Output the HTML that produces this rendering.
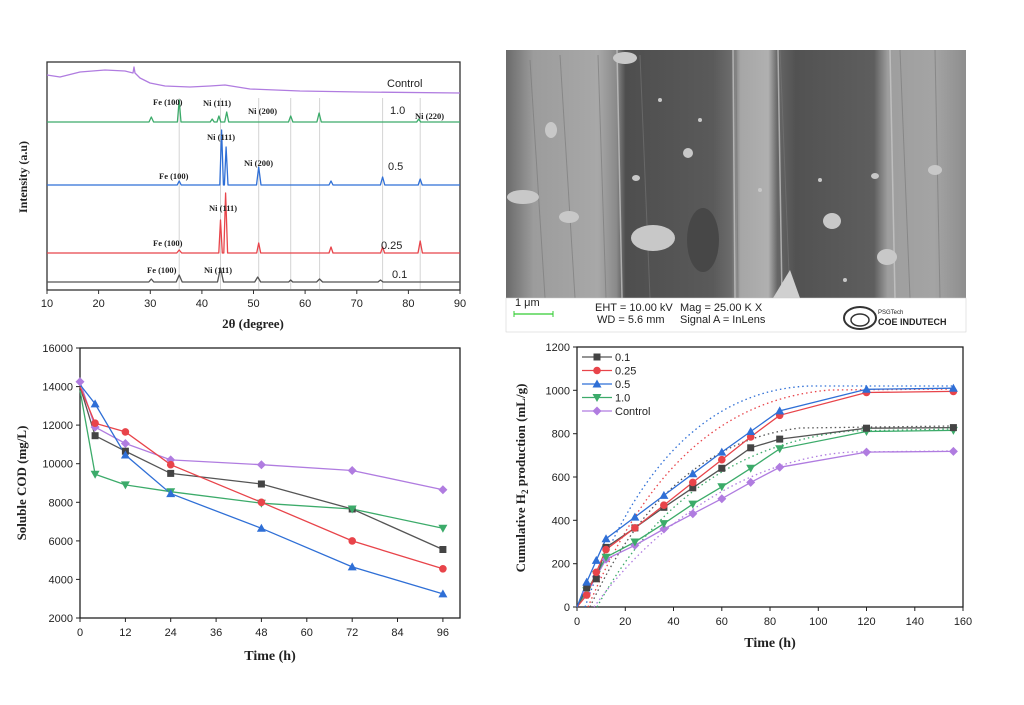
<!DOCTYPE html>
<html><head><meta charset="utf-8"><style>
html,body{margin:0;padding:0;background:#fff;}
svg{display:block;}
.t{font-family:"Liberation Sans",sans-serif;font-size:11px;fill:#222;}
.tb{font-family:"Liberation Serif",serif;font-weight:bold;fill:#222;}
</style></head><body>
<svg width="1024" height="705" viewBox="0 0 1024 705" xmlns="http://www.w3.org/2000/svg">
<defs>
<symbol id="sq" viewBox="-4 -4 8 8" overflow="visible"><rect x="-3.5" y="-3.5" width="7" height="7"/></symbol>
<symbol id="ci" viewBox="-4 -4 8 8" overflow="visible"><circle r="3.8"/></symbol>
<symbol id="tu" viewBox="-4 -4 8 8" overflow="visible"><path d="M0,-4.5 L4.5,3.5 L-4.5,3.5Z"/></symbol>
<symbol id="td" viewBox="-4 -4 8 8" overflow="visible"><path d="M0,4.5 L4.5,-3.5 L-4.5,-3.5Z"/></symbol>
<symbol id="di" viewBox="-4 -4 8 8" overflow="visible"><path d="M0,-4.5 L4.5,0 L0,4.5 L-4.5,0Z"/></symbol>
<linearGradient id="sem" x1="0" x2="1" y1="0" y2="0">
<stop offset="0" stop-color="#6a6a6a"/><stop offset="0.06" stop-color="#9c9c9c"/><stop offset="0.2" stop-color="#a8a8a8"/><stop offset="0.24" stop-color="#8a8a8a"/>
<stop offset="0.26" stop-color="#4e4e4e"/><stop offset="0.45" stop-color="#5a5a5a"/><stop offset="0.49" stop-color="#6c6c6c"/>
<stop offset="0.51" stop-color="#a6a6a6"/><stop offset="0.57" stop-color="#b0b0b0"/><stop offset="0.59" stop-color="#666"/>
<stop offset="0.63" stop-color="#525252"/><stop offset="0.8" stop-color="#5e5e5e"/><stop offset="0.83" stop-color="#9e9e9e"/>
<stop offset="0.93" stop-color="#a4a4a4"/><stop offset="1" stop-color="#8e8e8e"/>
</linearGradient>
</defs>
<rect width="1024" height="705" fill="#fff"/>

<!-- XRD panel -->
<g stroke="#d4d4d4" stroke-width="1">
<line x1="179.2" y1="98" x2="179.2" y2="289"/><line x1="220.5" y1="98" x2="220.5" y2="289"/>
<line x1="258.7" y1="98" x2="258.7" y2="289"/><line x1="290.7" y1="98" x2="290.7" y2="289"/>
<line x1="319.6" y1="98" x2="319.6" y2="289"/><line x1="382.6" y1="98" x2="382.6" y2="289"/>
<line x1="420.2" y1="98" x2="420.2" y2="289"/>
</g>
<rect x="47" y="62" width="413" height="228" fill="none" stroke="#333" stroke-width="1.3"/>
<g fill="none" stroke-width="1.3" stroke-linejoin="round">
<path stroke="#b07ce0" d="M47,75 L60,77 L80,72 L105,70 L125,71 L133,73 L134,67 L135,73 L140,78 L150,83 L165,86 L190,87 L210,86 L225,85 L250,89 L300,91 L360,92 L460,93"/>
<path stroke="#3cab6a" d="M47,122 L149,122 L151.3,117 L153.6,122 L177.4,122 L179.2,100 L181,122 L210.2,122 L212.2,119 L214.2,122 L217,122 L218.9,116 L220.8,122 L224.7,122 L226.7,112 L228.7,122 L288.5,122 L290.7,116 L292.9,122 L316.9,122 L319.1,113 L321.3,122 L416.7,122 L418.7,119 L420.7,122 L460,122"/>
<path stroke="#2f6fd6" d="M47,185 L177.2,185 L179.2,181 L181.2,185 L219.8,185 L221.6,130 L223.4,185 L224.4,185 L226.1,147 L228,185 L256.5,185 L258.7,167 L261,185 L329,185 L331,181 L333,185 L380.4,185 L382.6,177 L384.8,185 L418.2,185 L420.2,179 L422.2,185 L460,185"/>
<path stroke="#e8444a" d="M47,253 L176.7,253 L179.2,250 L181.7,253 L218.8,253 L220.5,220 L222.3,253 L223.8,253 L225.6,193 L227.6,253 L256.7,253 L258.7,243 L260.7,253 L329,253 L331,247 L333,253 L380.6,253 L382.6,247 L384.6,253 L418,253 L420.2,241 L422.4,253 L460,253"/>
<path stroke="#555" d="M47,282 L148.8,282 L151.3,279 L153.8,282 L176.2,282 L179.2,275 L182.2,282 L217.5,282 L220.5,268 L223.5,282 L254.7,282 L257.7,277 L260.7,282 L288.7,282 L290.7,280 L292.7,282 L316.6,282 L319.6,279 L322.6,282 L378,282 L380.5,280 L383,282 L460,282"/>
</g>
<g class="tb" font-size="8.5">
<text x="153" y="105">Fe (100)</text><text x="203" y="106">Ni (111)</text><text x="248" y="114">Ni (200)</text><text x="415" y="119">Ni (220)</text>
<text x="207" y="140">Ni (111)</text><text x="159" y="179">Fe (100)</text><text x="244" y="166">Ni (200)</text>
<text x="209" y="211">Ni (111)</text><text x="153" y="246">Fe (100)</text>
<text x="147" y="273">Fe (100)</text><text x="204" y="273">Ni (111)</text>
</g>
<g class="t" font-size="13">
<text x="387" y="87">Control</text><text x="390" y="114">1.0</text><text x="388" y="170">0.5</text><text x="381" y="249">0.25</text><text x="392" y="278">0.1</text>
</g>
<g stroke="#333" stroke-width="1">
<line x1="47" y1="290" x2="47" y2="294"/><line x1="98.6" y1="290" x2="98.6" y2="294"/><line x1="150.3" y1="290" x2="150.3" y2="294"/><line x1="201.9" y1="290" x2="201.9" y2="294"/><line x1="253.5" y1="290" x2="253.5" y2="294"/><line x1="305.1" y1="290" x2="305.1" y2="294"/><line x1="356.8" y1="290" x2="356.8" y2="294"/><line x1="408.4" y1="290" x2="408.4" y2="294"/><line x1="460" y1="290" x2="460" y2="294"/>
</g>
<g class="t" text-anchor="middle">
<text x="47" y="307">10</text><text x="98.6" y="307">20</text><text x="150.3" y="307">30</text><text x="201.9" y="307">40</text><text x="253.5" y="307">50</text><text x="305.1" y="307">60</text><text x="356.8" y="307">70</text><text x="408.4" y="307">80</text><text x="460" y="307">90</text>
</g>
<text class="tb" x="253" y="328" font-size="13" text-anchor="middle">2θ (degree)</text>
<text class="tb" font-size="12" text-anchor="middle" transform="translate(27,177) rotate(-90)">Intensity (a.u)</text>

<!-- SEM panel -->
<rect x="506" y="50" width="460" height="248" fill="url(#sem)"/>
<g stroke="#777" stroke-width="1" opacity="0.6" fill="none">
<path d="M530,60 L545,298"/><path d="M560,55 L575,298"/><path d="M598,55 L606,298"/><path d="M640,55 L650,298"/>
<path d="M736,50 L738,298"/><path d="M780,50 L790,298"/><path d="M900,50 L910,298"/><path d="M935,50 L940,298"/>
</g>
<g stroke="#ccc" stroke-width="1.5" opacity="0.7" fill="none">
<path d="M617,50 L622,298"/><path d="M733,50 L735,298"/><path d="M778,50 L782,298"/><path d="M890,50 L895,298"/>
</g>
<g fill="#c8c8c8">
<ellipse cx="653" cy="238" rx="22" ry="13"/><ellipse cx="832" cy="221" rx="9" ry="8"/><ellipse cx="887" cy="257" rx="10" ry="8"/>
<ellipse cx="523" cy="197" rx="16" ry="7"/><ellipse cx="569" cy="217" rx="10" ry="6"/><ellipse cx="688" cy="153" rx="5" ry="5"/>
<ellipse cx="636" cy="178" rx="4" ry="3"/><ellipse cx="875" cy="176" rx="4" ry="3"/><ellipse cx="625" cy="58" rx="12" ry="6"/>
<ellipse cx="551" cy="130" rx="6" ry="8"/><ellipse cx="935" cy="170" rx="7" ry="5"/>
<circle cx="660" cy="100" r="2"/><circle cx="700" cy="120" r="2"/><circle cx="760" cy="190" r="2"/><circle cx="820" cy="180" r="2"/><circle cx="845" cy="280" r="2"/><circle cx="700" cy="230" r="2"/>
</g>
<ellipse cx="703" cy="240" rx="16" ry="32" fill="#474747"/>
<path d="M773,298 L790,270 L800,298Z" fill="#d0d0d0"/>
<rect x="506" y="298" width="460" height="34" fill="#fff" stroke="#ccc" stroke-width="0.5"/>
<g class="t" font-size="7" fill="#333">
<text x="515" y="306">1 μm</text>
<text x="595" y="311">EHT = 10.00 kV</text><text x="680" y="311">Mag =  25.00 K X</text>
<text x="597" y="323">WD =  5.6 mm</text><text x="680" y="323">Signal A = InLens</text>
<text x="878" y="314" font-size="6">PSGTech</text>
<text x="878" y="325" font-size="9" font-weight="bold">COE INDUTECH</text>
</g>
<line x1="514" y1="314" x2="553" y2="314" stroke="#3c3" stroke-width="1.2"/>
<line x1="514" y1="311" x2="514" y2="317" stroke="#3c3"/><line x1="553" y1="311" x2="553" y2="317" stroke="#3c3"/>
<ellipse cx="860" cy="318" rx="16" ry="11" fill="none" stroke="#333" stroke-width="2"/>
<ellipse cx="860" cy="320" rx="9" ry="6" fill="none" stroke="#333" stroke-width="1.5"/>

<!-- COD panel -->
<rect x="80" y="348" width="380" height="270" fill="none" stroke="#222" stroke-width="1.3"/>
<g stroke="#222" stroke-width="1">
<line x1="76" y1="348" x2="80" y2="348"/><line x1="76" y1="386.6" x2="80" y2="386.6"/><line x1="76" y1="425.1" x2="80" y2="425.1"/><line x1="76" y1="463.7" x2="80" y2="463.7"/><line x1="76" y1="502.3" x2="80" y2="502.3"/><line x1="76" y1="540.9" x2="80" y2="540.9"/><line x1="76" y1="579.4" x2="80" y2="579.4"/><line x1="76" y1="618" x2="80" y2="618"/>
<line x1="80" y1="618" x2="80" y2="622"/><line x1="125.4" y1="618" x2="125.4" y2="622"/><line x1="170.7" y1="618" x2="170.7" y2="622"/><line x1="216.1" y1="618" x2="216.1" y2="622"/><line x1="261.4" y1="618" x2="261.4" y2="622"/><line x1="306.8" y1="618" x2="306.8" y2="622"/><line x1="352.2" y1="618" x2="352.2" y2="622"/><line x1="397.5" y1="618" x2="397.5" y2="622"/><line x1="442.9" y1="618" x2="442.9" y2="622"/>
</g>
<g class="t" text-anchor="end">
<text x="73" y="352">16000</text><text x="73" y="390.6">14000</text><text x="73" y="429.1">12000</text><text x="73" y="467.7">10000</text><text x="73" y="506.3">8000</text><text x="73" y="544.9">6000</text><text x="73" y="583.4">4000</text><text x="73" y="622">2000</text>
</g>
<g class="t" text-anchor="middle">
<text x="80" y="636">0</text><text x="125.4" y="636">12</text><text x="170.7" y="636">24</text><text x="216.1" y="636">36</text><text x="261.4" y="636">48</text><text x="306.8" y="636">60</text><text x="352.2" y="636">72</text><text x="397.5" y="636">84</text><text x="442.9" y="636">96</text>
</g>
<text class="tb" x="270" y="660" font-size="14" text-anchor="middle">Time (h)</text>
<text class="tb" font-size="13" text-anchor="middle" transform="translate(26,483) rotate(-90)">Soluble COD (mg/L)</text>
<g fill="none" stroke-width="1.3">
<polyline stroke="#b07ce0" points="80,381.7 95.1,427.1 125.4,443.5 170.7,459.9 261.4,464.7 352.2,470.5 442.9,489.7"/>
<polyline stroke="#555" points="80,386.6 95.1,435.7 125.4,451.2 170.7,473.4 261.4,484 352.2,509 442.9,549.5"/>
<polyline stroke="#3cab6a" points="80,390.4 95.1,474.3 125.4,484.9 170.7,491.7 261.4,503.2 352.2,509 442.9,528.3"/>
<polyline stroke="#e8444a" points="80,386.6 95.1,423.2 125.4,431.9 170.7,464.7 261.4,502.3 352.2,540.9 442.9,568.8"/>
<polyline stroke="#2f6fd6" points="80,384.6 95.1,403.9 125.4,455 170.7,493.6 261.4,528.3 352.2,566.9 442.9,593.9"/>
</g>
<g fill="#b07ce0"><use href="#di" x="76" y="377.7" width="8" height="8"/><use href="#di" x="91.1" y="423.1" width="8" height="8"/><use href="#di" x="121.4" y="439.5" width="8" height="8"/><use href="#di" x="166.7" y="455.9" width="8" height="8"/><use href="#di" x="257.4" y="460.7" width="8" height="8"/><use href="#di" x="348.2" y="466.5" width="8" height="8"/><use href="#di" x="438.9" y="485.7" width="8" height="8"/></g>
<g fill="#444"><use href="#sq" x="91.1" y="431.7" width="8" height="8"/><use href="#sq" x="121.4" y="447.2" width="8" height="8"/><use href="#sq" x="166.7" y="469.4" width="8" height="8"/><use href="#sq" x="257.4" y="480" width="8" height="8"/><use href="#sq" x="348.2" y="505" width="8" height="8"/><use href="#sq" x="438.9" y="545.5" width="8" height="8"/></g>
<g fill="#3cab6a"><use href="#td" x="91.1" y="470.3" width="8" height="8"/><use href="#td" x="121.4" y="480.9" width="8" height="8"/><use href="#td" x="166.7" y="487.7" width="8" height="8"/><use href="#td" x="257.4" y="499.2" width="8" height="8"/><use href="#td" x="348.2" y="505" width="8" height="8"/><use href="#td" x="438.9" y="524.3" width="8" height="8"/></g>
<g fill="#e8444a"><use href="#ci" x="91.1" y="419.2" width="8" height="8"/><use href="#ci" x="121.4" y="427.9" width="8" height="8"/><use href="#ci" x="166.7" y="460.7" width="8" height="8"/><use href="#ci" x="257.4" y="498.3" width="8" height="8"/><use href="#ci" x="348.2" y="536.9" width="8" height="8"/><use href="#ci" x="438.9" y="564.8" width="8" height="8"/></g>
<g fill="#2f6fd6"><use href="#tu" x="91.1" y="399.9" width="8" height="8"/><use href="#tu" x="121.4" y="451" width="8" height="8"/><use href="#tu" x="166.7" y="489.6" width="8" height="8"/><use href="#tu" x="257.4" y="524.3" width="8" height="8"/><use href="#tu" x="348.2" y="562.9" width="8" height="8"/><use href="#tu" x="438.9" y="589.9" width="8" height="8"/></g>

<!-- H2 panel -->
<rect x="577" y="347" width="386" height="260" fill="none" stroke="#222" stroke-width="1.3"/>
<g stroke="#222" stroke-width="1">
<line x1="573" y1="347" x2="577" y2="347"/><line x1="573" y1="390.3" x2="577" y2="390.3"/><line x1="573" y1="433.7" x2="577" y2="433.7"/><line x1="573" y1="477" x2="577" y2="477"/><line x1="573" y1="520.3" x2="577" y2="520.3"/><line x1="573" y1="563.7" x2="577" y2="563.7"/><line x1="573" y1="607" x2="577" y2="607"/>
<line x1="577" y1="607" x2="577" y2="611"/><line x1="625.3" y1="607" x2="625.3" y2="611"/><line x1="673.5" y1="607" x2="673.5" y2="611"/><line x1="721.8" y1="607" x2="721.8" y2="611"/><line x1="770" y1="607" x2="770" y2="611"/><line x1="818.3" y1="607" x2="818.3" y2="611"/><line x1="866.5" y1="607" x2="866.5" y2="611"/><line x1="914.8" y1="607" x2="914.8" y2="611"/><line x1="963" y1="607" x2="963" y2="611"/>
</g>
<g class="t" text-anchor="end">
<text x="570" y="351">1200</text><text x="570" y="394.3">1000</text><text x="570" y="437.7">800</text><text x="570" y="481">600</text><text x="570" y="524.3">400</text><text x="570" y="567.7">200</text><text x="570" y="611">0</text>
</g>
<g class="t" text-anchor="middle">
<text x="577" y="625">0</text><text x="625.3" y="625">20</text><text x="673.5" y="625">40</text><text x="721.8" y="625">60</text><text x="770" y="625">80</text><text x="818.3" y="625">100</text><text x="866.5" y="625">120</text><text x="914.8" y="625">140</text><text x="963" y="625">160</text>
</g>
<text class="tb" x="770" y="647" font-size="14" text-anchor="middle">Time (h)</text>
<text class="tb" font-size="13" text-anchor="middle" transform="translate(525,478) rotate(-90)">Cumulative H<tspan font-size="9" dy="3">2</tspan><tspan dy="-3"> production (mL/g)</tspan></text>
<g fill="none" stroke-width="1.3" stroke-dasharray="1.5,3">
<path stroke="#2f6fd6" d="M585,607 C630,480 700,390 810,386 L953,386"/>
<path stroke="#e8444a" d="M588,607 C640,485 710,400 830,390 L953,389"/>
<path stroke="#555" d="M590,607 C635,510 700,440 800,428 L953,426"/>
<path stroke="#3cab6a" d="M597,607 C645,520 720,445 850,431 L953,429"/>
<path stroke="#b07ce0" d="M594,607 C650,530 740,460 850,452 L953,451"/>
</g>
<g fill="none" stroke-width="1.3">
<polyline stroke="#b07ce0" points="577,607 586.7,592.9 596.3,576.7 606,559.3 634.9,545.3 663.9,529 692.8,513.8 721.8,498.7 750.7,482.4 779.7,467.3 866.5,452.1 953.4,451.4"/>
<polyline stroke="#3cab6a" points="577,607 586.7,590.8 596.3,574.5 606,557.2 634.9,542 663.9,523.6 692.8,504.1 721.8,486.8 750.7,468.3 779.7,448.8 866.5,431.5 953.4,430.4"/>
<polyline stroke="#555" points="577,607 586.7,587.5 596.3,578.8 606,547.4 634.9,527.9 663.9,507.3 692.8,487.8 721.8,468.3 750.7,447.8 779.7,439.1 866.5,428.2 953.4,427.6"/>
<polyline stroke="#e8444a" points="577,607 586.7,595.1 596.3,572.3 606,549.6 634.9,527.9 663.9,505.2 692.8,482.4 721.8,459.7 750.7,436.9 779.7,415.3 866.5,392.5 953.4,391.4"/>
<polyline stroke="#2f6fd6" points="577,607 586.7,582.1 596.3,560.4 606,538.7 634.9,517.1 663.9,495.4 692.8,473.8 721.8,452.1 750.7,431.5 779.7,410.9 866.5,389.3 953.4,388.2"/>
</g>
<g fill="#b07ce0"><use href="#di" x="582.7" y="588.9" width="8" height="8"/><use href="#di" x="592.3" y="572.7" width="8" height="8"/><use href="#di" x="602" y="555.3" width="8" height="8"/><use href="#di" x="630.9" y="541.3" width="8" height="8"/><use href="#di" x="659.9" y="525" width="8" height="8"/><use href="#di" x="688.8" y="509.8" width="8" height="8"/><use href="#di" x="717.8" y="494.7" width="8" height="8"/><use href="#di" x="746.7" y="478.4" width="8" height="8"/><use href="#di" x="775.7" y="463.3" width="8" height="8"/><use href="#di" x="862.5" y="448.1" width="8" height="8"/><use href="#di" x="949.4" y="447.4" width="8" height="8"/></g>
<g fill="#3cab6a"><use href="#td" x="582.7" y="586.8" width="8" height="8"/><use href="#td" x="592.3" y="570.5" width="8" height="8"/><use href="#td" x="602" y="553.2" width="8" height="8"/><use href="#td" x="630.9" y="538" width="8" height="8"/><use href="#td" x="659.9" y="519.6" width="8" height="8"/><use href="#td" x="688.8" y="500.1" width="8" height="8"/><use href="#td" x="717.8" y="482.8" width="8" height="8"/><use href="#td" x="746.7" y="464.3" width="8" height="8"/><use href="#td" x="775.7" y="444.8" width="8" height="8"/><use href="#td" x="862.5" y="427.5" width="8" height="8"/><use href="#td" x="949.4" y="426.4" width="8" height="8"/></g>
<g fill="#444"><use href="#sq" x="582.7" y="583.5" width="8" height="8"/><use href="#sq" x="592.3" y="574.8" width="8" height="8"/><use href="#sq" x="602" y="543.4" width="8" height="8"/><use href="#sq" x="630.9" y="523.9" width="8" height="8"/><use href="#sq" x="659.9" y="503.3" width="8" height="8"/><use href="#sq" x="688.8" y="483.8" width="8" height="8"/><use href="#sq" x="717.8" y="464.3" width="8" height="8"/><use href="#sq" x="746.7" y="443.8" width="8" height="8"/><use href="#sq" x="775.7" y="435.1" width="8" height="8"/><use href="#sq" x="862.5" y="424.2" width="8" height="8"/><use href="#sq" x="949.4" y="423.6" width="8" height="8"/></g>
<g fill="#e8444a"><use href="#ci" x="582.7" y="591.1" width="8" height="8"/><use href="#ci" x="592.3" y="568.3" width="8" height="8"/><use href="#ci" x="602" y="545.6" width="8" height="8"/><use href="#ci" x="630.9" y="523.9" width="8" height="8"/><use href="#ci" x="659.9" y="501.2" width="8" height="8"/><use href="#ci" x="688.8" y="478.4" width="8" height="8"/><use href="#ci" x="717.8" y="455.7" width="8" height="8"/><use href="#ci" x="746.7" y="432.9" width="8" height="8"/><use href="#ci" x="775.7" y="411.3" width="8" height="8"/><use href="#ci" x="862.5" y="388.5" width="8" height="8"/><use href="#ci" x="949.4" y="387.4" width="8" height="8"/></g>
<g fill="#2f6fd6"><use href="#tu" x="582.7" y="578.1" width="8" height="8"/><use href="#tu" x="592.3" y="556.4" width="8" height="8"/><use href="#tu" x="602" y="534.7" width="8" height="8"/><use href="#tu" x="630.9" y="513.1" width="8" height="8"/><use href="#tu" x="659.9" y="491.4" width="8" height="8"/><use href="#tu" x="688.8" y="469.8" width="8" height="8"/><use href="#tu" x="717.8" y="448.1" width="8" height="8"/><use href="#tu" x="746.7" y="427.5" width="8" height="8"/><use href="#tu" x="775.7" y="406.9" width="8" height="8"/><use href="#tu" x="862.5" y="385.3" width="8" height="8"/><use href="#tu" x="949.4" y="384.2" width="8" height="8"/></g>
<!-- legend -->
<g stroke-width="1.3">
<line x1="582" y1="357" x2="612" y2="357" stroke="#555"/><line x1="582" y1="370.5" x2="612" y2="370.5" stroke="#e8444a"/><line x1="582" y1="384" x2="612" y2="384" stroke="#2f6fd6"/><line x1="582" y1="397.5" x2="612" y2="397.5" stroke="#3cab6a"/><line x1="582" y1="411" x2="612" y2="411" stroke="#b07ce0"/>
</g>
<use href="#sq" x="593" y="353" width="8" height="8" fill="#444"/>
<use href="#ci" x="593" y="366.5" width="8" height="8" fill="#e8444a"/>
<use href="#tu" x="593" y="380" width="8" height="8" fill="#2f6fd6"/>
<use href="#td" x="593" y="393.5" width="8" height="8" fill="#3cab6a"/>
<use href="#di" x="593" y="407" width="8" height="8" fill="#b07ce0"/>
<g class="t" font-size="12">
<text x="615" y="361">0.1</text><text x="615" y="374.5">0.25</text><text x="615" y="388">0.5</text><text x="615" y="401.5">1.0</text><text x="615" y="415">Control</text>
</g>
</svg>
</body></html>
